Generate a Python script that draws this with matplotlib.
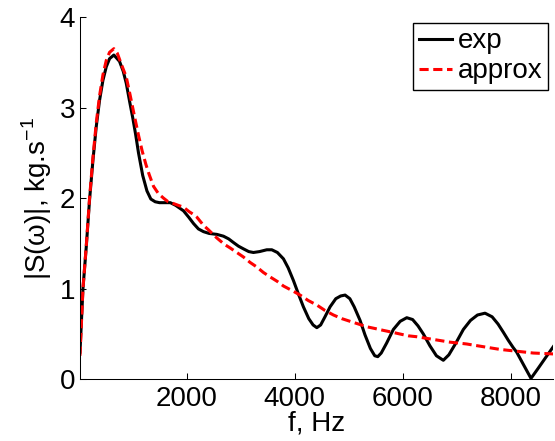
import numpy as np
import matplotlib
matplotlib.use("Agg")
import matplotlib.pyplot as plt

plt.rcParams["font.family"] = ["Liberation Sans", "DejaVu Sans"]
plt.rcParams["mathtext.fontset"] = "custom"
plt.rcParams["mathtext.rm"] = "Liberation Sans"

f_exp = [30, 85, 146, 207, 270, 331, 392, 454, 516, 577, 657, 761, 830, 885,
         950, 1008, 1060, 1112, 1190, 1268, 1340, 1420, 1500, 1600, 1700, 1800,
         1944, 2040, 2129, 2220, 2314, 2420, 2560, 2683, 2780, 2868, 2960, 3053,
         3150, 3237, 3350, 3484, 3577, 3680, 3792, 3880, 3977, 4070, 4161, 4260,
         4340, 4409, 4480, 4560, 4654, 4760, 4850, 4932, 5020, 5100, 5209, 5300,
         5400, 5480, 5536, 5600, 5700, 5824, 5950, 6072, 6180, 6280, 6379, 6500,
         6620, 6748, 6850, 6980, 7118, 7250, 7380, 7519, 7650, 7760, 7857, 7950,
         8040, 8104, 8250, 8369, 8500, 8640, 8781]
s_exp = [0.30, 1.00, 1.46, 1.98, 2.42, 2.79, 3.08, 3.30, 3.45, 3.54, 3.58, 3.51,
         3.40, 3.27, 3.06, 2.88, 2.70, 2.50, 2.25, 2.08, 1.99, 1.96, 1.95, 1.95,
         1.95, 1.92, 1.86, 1.79, 1.72, 1.66, 1.63, 1.61, 1.60, 1.58, 1.55, 1.51,
         1.47, 1.44, 1.41, 1.40, 1.41, 1.43, 1.43, 1.40, 1.33, 1.23, 1.09, 0.94,
         0.80, 0.67, 0.60, 0.57, 0.60, 0.69, 0.80, 0.89, 0.92, 0.93, 0.89, 0.80,
         0.65, 0.49, 0.34, 0.26, 0.25, 0.29, 0.40, 0.55, 0.64, 0.68, 0.66, 0.59,
         0.50, 0.37, 0.26, 0.21, 0.27, 0.40, 0.55, 0.65, 0.71, 0.73, 0.69, 0.61,
         0.52, 0.43, 0.35, 0.30, 0.14, 0.01, 0.12, 0.24, 0.36]

# fitted approximation
f_app = [30, 85, 146, 207, 270, 331, 392, 454, 516, 577, 657, 720, 800, 885,
         960, 1039, 1110, 1180, 1250, 1310, 1390, 1480, 1575, 1660, 1760, 1850,
         1944, 2050, 2129, 2191, 2314, 2406, 2561, 2700, 2807, 2930, 3053, 3176,
         3299, 3420, 3546, 3680, 3792, 3950, 4100, 4250, 4409, 4560, 4716, 4870,
         5024, 5180, 5333, 5490, 5640, 5800, 5948, 6100, 6256, 6410, 6564, 6720,
         6872, 7030, 7180, 7330, 7487, 7640, 7796, 7950, 8104, 8260, 8411, 8600,
         8781]
s_app = [0.26, 1.00, 1.47, 2.00, 2.45, 2.83, 3.13, 3.36, 3.52, 3.61, 3.65, 3.60,
         3.47, 3.34, 3.13, 2.90, 2.70, 2.52, 2.37, 2.26, 2.13, 2.05, 2.00, 1.96,
         1.94, 1.92, 1.90, 1.85, 1.82, 1.79, 1.70, 1.65, 1.56, 1.49, 1.45, 1.40,
         1.35, 1.29, 1.24, 1.18, 1.13, 1.08, 1.03, 0.98, 0.93, 0.87, 0.82, 0.76,
         0.71, 0.67, 0.64, 0.61, 0.58, 0.56, 0.54, 0.52, 0.50, 0.48, 0.47, 0.455,
         0.44, 0.425, 0.41, 0.40, 0.39, 0.375, 0.36, 0.345, 0.33, 0.32, 0.31,
         0.30, 0.29, 0.285, 0.28]

x_ticks = [2000, 4000, 6000, 8000]
y_ticks = [0, 1, 2, 3, 4]

fig = plt.figure(figsize=(5.55, 4.41), dpi=100)
ax = fig.add_axes([0.1441, 0.1399, 0.8528, 0.8216])

ax.plot(f_exp, s_exp, color="black", lw=2.2, label="exp")
ax.plot(f_app, s_app, color="red", lw=2.2, dashes=(3, 1.5), label="approx")

ax.set_xlim(30, 8781)
ax.set_ylim(0, 4)
ax.set_xticks(x_ticks)
ax.set_yticks(y_ticks)
ax.tick_params(direction="in", length=4, width=0.75, labelsize=20)
ax.tick_params(axis="x", pad=5)
for side in ["top", "right"]:
    ax.spines[side].set_visible(False)
for side in ["left", "bottom"]:
    ax.spines[side].set_linewidth(0.75)

ax.set_xlabel("f, Hz", fontsize=20, labelpad=-1)
ax.set_ylabel("|S(ω)|, kg.s$^{-1}$", fontsize=20, labelpad=4)

leg = ax.legend(loc="upper right", bbox_to_anchor=(0.989, 0.984), fontsize=20,
                handlelength=1.2, handletextpad=0.2, borderpad=0.2,
                labelspacing=0.15, borderaxespad=0, fancybox=False,
                framealpha=1)
leg.get_frame().set_edgecolor("black")
leg.get_frame().set_linewidth(1.0)

fig.savefig("out.png", dpi=100)
